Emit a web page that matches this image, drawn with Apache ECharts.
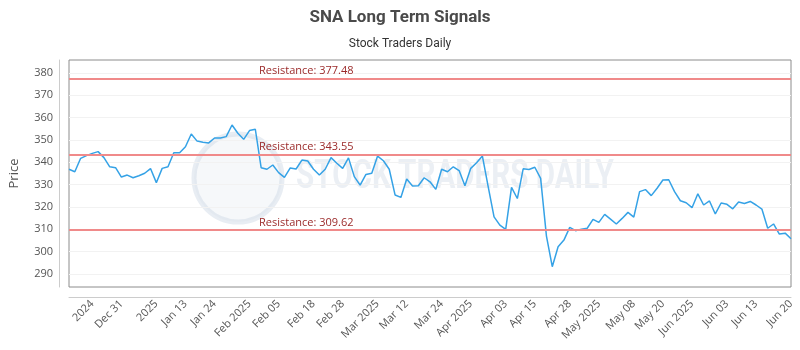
<!DOCTYPE html>
<html>
<head>
<meta charset="utf-8">
<script src="https://cdn.jsdelivr.net/npm/echarts@6/dist/echarts.min.js"></script>
<style>
  html, body { margin: 0; padding: 0; background: #fff; }
  #chart { width: 800px; height: 350px; }
</style>
</head>
<body>
<div id="chart"></div>
<script>
// closing prices, one per trading session
var prices = [
  336.9, 335.8, 341.8, 343.0, 344.0, 344.8, 342.1, 338.0, 337.6, 333.4,
  334.3, 333.1, 334.0, 335.1, 337.2, 330.9, 337.3, 338.0, 344.3, 344.3,
  347.0, 352.7, 349.5, 349.0, 348.7, 350.9, 350.9, 351.5, 356.7, 353.0,
  350.3, 354.2, 354.8, 337.6, 336.9, 338.8, 335.4, 333.3, 337.5, 337.0,
  341.0, 340.6, 336.9, 334.3, 336.9, 342.1, 339.6, 337.3, 342.0, 333.6,
  329.8, 334.6, 335.1, 342.8, 340.7, 336.9, 325.4, 324.3, 332.5, 329.4,
  329.5, 333.1, 331.3, 327.9, 336.9, 335.8, 338.0, 336.3, 329.5, 337.3,
  339.8, 342.8, 329.0, 315.6, 311.9, 310.0, 328.8, 323.8, 337.1, 336.8,
  337.8, 332.8, 307.0, 293.3, 302.2, 305.2, 310.9, 309.4, 310.1, 310.5,
  314.5, 313.1, 316.7, 314.6, 312.4, 314.9, 317.6, 315.5, 326.9, 327.8,
  325.1, 328.4, 332.1, 332.2, 326.9, 322.8, 321.9, 319.7, 325.9, 320.9,
  322.7, 316.9, 321.8, 321.2, 319.2, 322.2, 321.6, 322.5, 320.9, 319.1,
  310.5, 312.4, 307.9, 308.3, 305.8
];

// x axis tick labels and the session they sit on
var tickLabels = ['2024', 'Dec 31', '2025', 'Jan 13', 'Jan 24', 'Feb 2025', 'Feb 05', 'Feb 18',
  'Feb 28', 'Mar 2025', 'Mar 12', 'Mar 24', 'Apr 2025', 'Apr 03', 'Apr 15', 'Apr 28',
  'May 2025', 'May 08', 'May 20', 'Jun 2025', 'Jun 03', 'Jun 13', 'Jun 20'];
var tickIndex = [4, 9, 15, 20, 25, 31, 36, 42, 47, 53, 58, 64, 69, 75, 80, 86, 91, 97, 102, 107, 113, 118, 124];

var resistance = [377.48, 343.55, 309.62];
var yTicks = [290, 300, 310, 320, 330, 340, 350, 360, 370, 380];

// category labels: only the tick sessions get text
var categories = [];
for (var i = 0; i < prices.length; i++) {
  categories.push('');
}
for (var j = 0; j < tickIndex.length; j++) {
  categories[tickIndex[j]] = tickLabels[j];
}

var chart = echarts.init(document.getElementById('chart'));

var option = {
  animation: false,
  title: {
    text: 'SNA Long Term Signals',
    subtext: 'Stock Traders Daily',
    left: 'center',
    top: 4,
    itemGap: 12,
    textStyle: {
      fontFamily: '"Liberation Sans Narrow", Roboto, sans-serif',
      fontSize: 17,
      fontWeight: 'bold',
      color: '#4a4a4a'
    },
    subtextStyle: {
      fontFamily: '"Liberation Sans Narrow", Roboto, sans-serif',
      fontSize: 12,
      color: '#333'
    }
  },
  graphic: [
    {
      type: 'circle',
      silent: true,
      shape: { cx: 238, cy: 178, r: 44 },
      style: { fill: 'rgba(205,216,228,0.18)', stroke: 'rgba(205,216,228,0.45)', lineWidth: 5 }
    },
    {
      type: 'text',
      silent: true,
      x: 296,
      y: 158,
      scaleX: 0.74,
      style: {
        text: 'STOCK TRADERS DAILY',
        font: 'bold 40px Roboto, sans-serif',
        fill: 'rgba(205,216,228,0.4)'
      }
    }
  ],
  grid: {
    left: 67,
    right: 9,
    top: 60,
    bottom: 63,
    show: true,
    borderColor: '#8c8c8c',
    borderWidth: 1
  },
  xAxis: {
    type: 'category',
    data: categories,
    boundaryGap: false,
    offset: 10,
    axisLine: { lineStyle: { color: '#ccc' } },
    axisTick: { show: false },
    axisLabel: {
      interval: function (index, value) { return value !== ''; },
      rotate: 45,
      margin: 5,
      color: '#555',
      fontSize: 11,
      fontFamily: '"Open Sans", sans-serif'
    },
    splitLine: { show: false }
  },
  yAxis: {
    type: 'value',
    min: 284.2,
    max: 385.8,
    offset: 10,
    name: 'Price',
    nameLocation: 'middle',
    nameGap: 38,
    nameTextStyle: {
      color: '#555',
      fontSize: 13,
      fontFamily: '"Open Sans", sans-serif'
    },
    axisLine: { show: true, lineStyle: { color: '#ccc' } },
    axisTick: { show: false, customValues: yTicks },
    axisLabel: {
      customValues: yTicks,
      margin: 6,
      color: '#555',
      fontSize: 11,
      fontFamily: '"Open Sans", sans-serif'
    },
    splitLine: { show: true, lineStyle: { color: '#f2f2f2' } }
  },
  series: [
    {
      type: 'line',
      data: prices,
      showSymbol: false,
      lineStyle: { color: '#35a2e6', width: 1.5 },
      itemStyle: { color: '#35a2e6' },
      markLine: {
        silent: true,
        symbol: 'none',
        lineStyle: { color: '#f08a8a', width: 2, type: 'solid' },
        label: {
          position: 'insideStartTop',
          distance: [190, 2],
          formatter: 'Resistance: {c}',
          color: '#9b2a2a',
          fontSize: 11,
          fontFamily: '"Open Sans", sans-serif'
        },
        data: resistance.map(function (v) { return { yAxis: v }; })
      }
    }
  ]
};

chart.setOption(option);
</script>
</body>
</html>
